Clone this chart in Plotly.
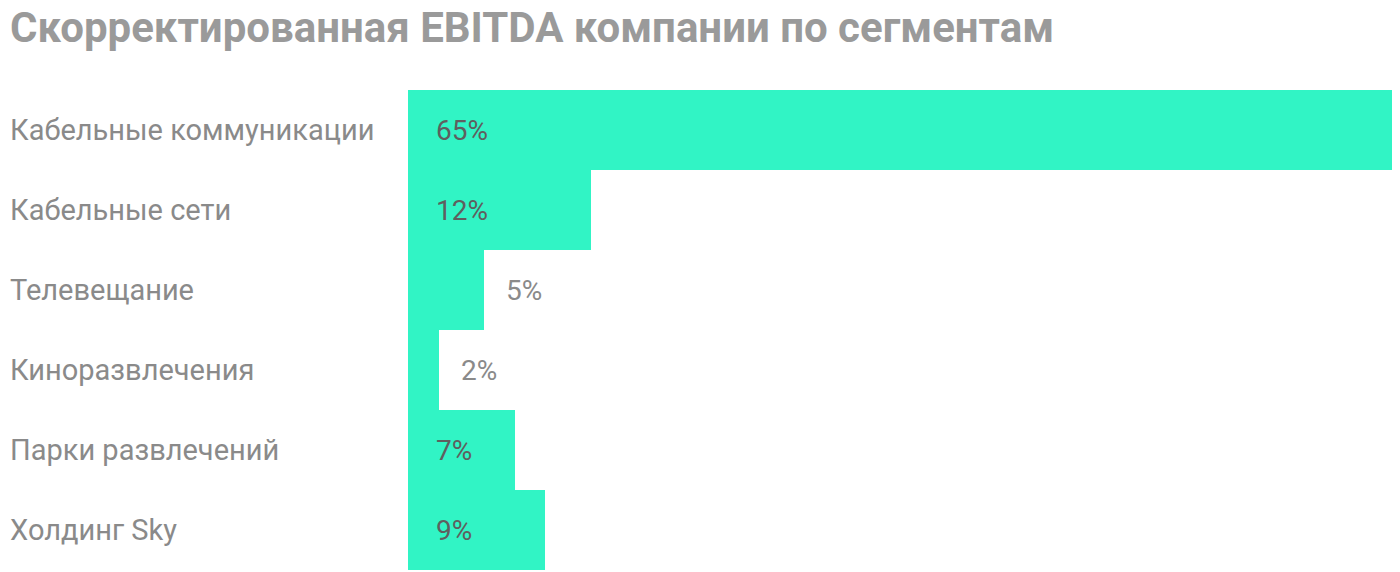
import plotly.graph_objects as go

segments = ["Кабельные коммуникации", "Кабельные сети", "Телевещание",
            "Киноразвлечения", "Парки развлечений", "Холдинг Sky"]
shares = [65, 12, 5, 2, 7, 9]
labels = ["65%", "12%", "5%", "2%", "7%", "9%"]

font = "Roboto"
fig = go.Figure(go.Bar(x=shares, y=segments, orientation="h",
                       marker=dict(color="#31F4C5", line=dict(width=0)),
                       hoverinfo="skip"))

for seg, v, lab in zip(segments, shares, labels):
    # category label on the far left
    fig.add_annotation(x=0, y=seg, xref="paper", yref="y", xanchor="left",
                       xshift=-400, text=seg, showarrow=False,
                       font=dict(family=font, size=29, color="#8a8a8a"))
    if v >= 7:
        fig.add_annotation(x=0, y=seg, xanchor="left", xshift=26, text=lab,
                           showarrow=False, font=dict(family=font, size=28, color="#5f5f5f"))
    else:
        fig.add_annotation(x=v, y=seg, xanchor="left", xshift=20, text=lab,
                           showarrow=False, font=dict(family=font, size=28, color="#8a8a8a"))

fig.add_annotation(x=0, y=1, xref="paper", yref="paper", xanchor="left", yanchor="bottom",
                   xshift=-400, yshift=36, text="<b>Скорректированная EBITDA компании по сегментам</b>",
                   showarrow=False, font=dict(family=font, size=42, color="#9a9a9a"))

fig.update_layout(width=1392, height=564, margin=dict(l=400, r=0, t=82, b=2),
                  plot_bgcolor="white", paper_bgcolor="white", bargap=0, showlegend=False)
fig.update_xaxes(range=[0, 65], visible=False)
fig.update_yaxes(autorange="reversed", visible=False)
fig.write_html("out.html")
